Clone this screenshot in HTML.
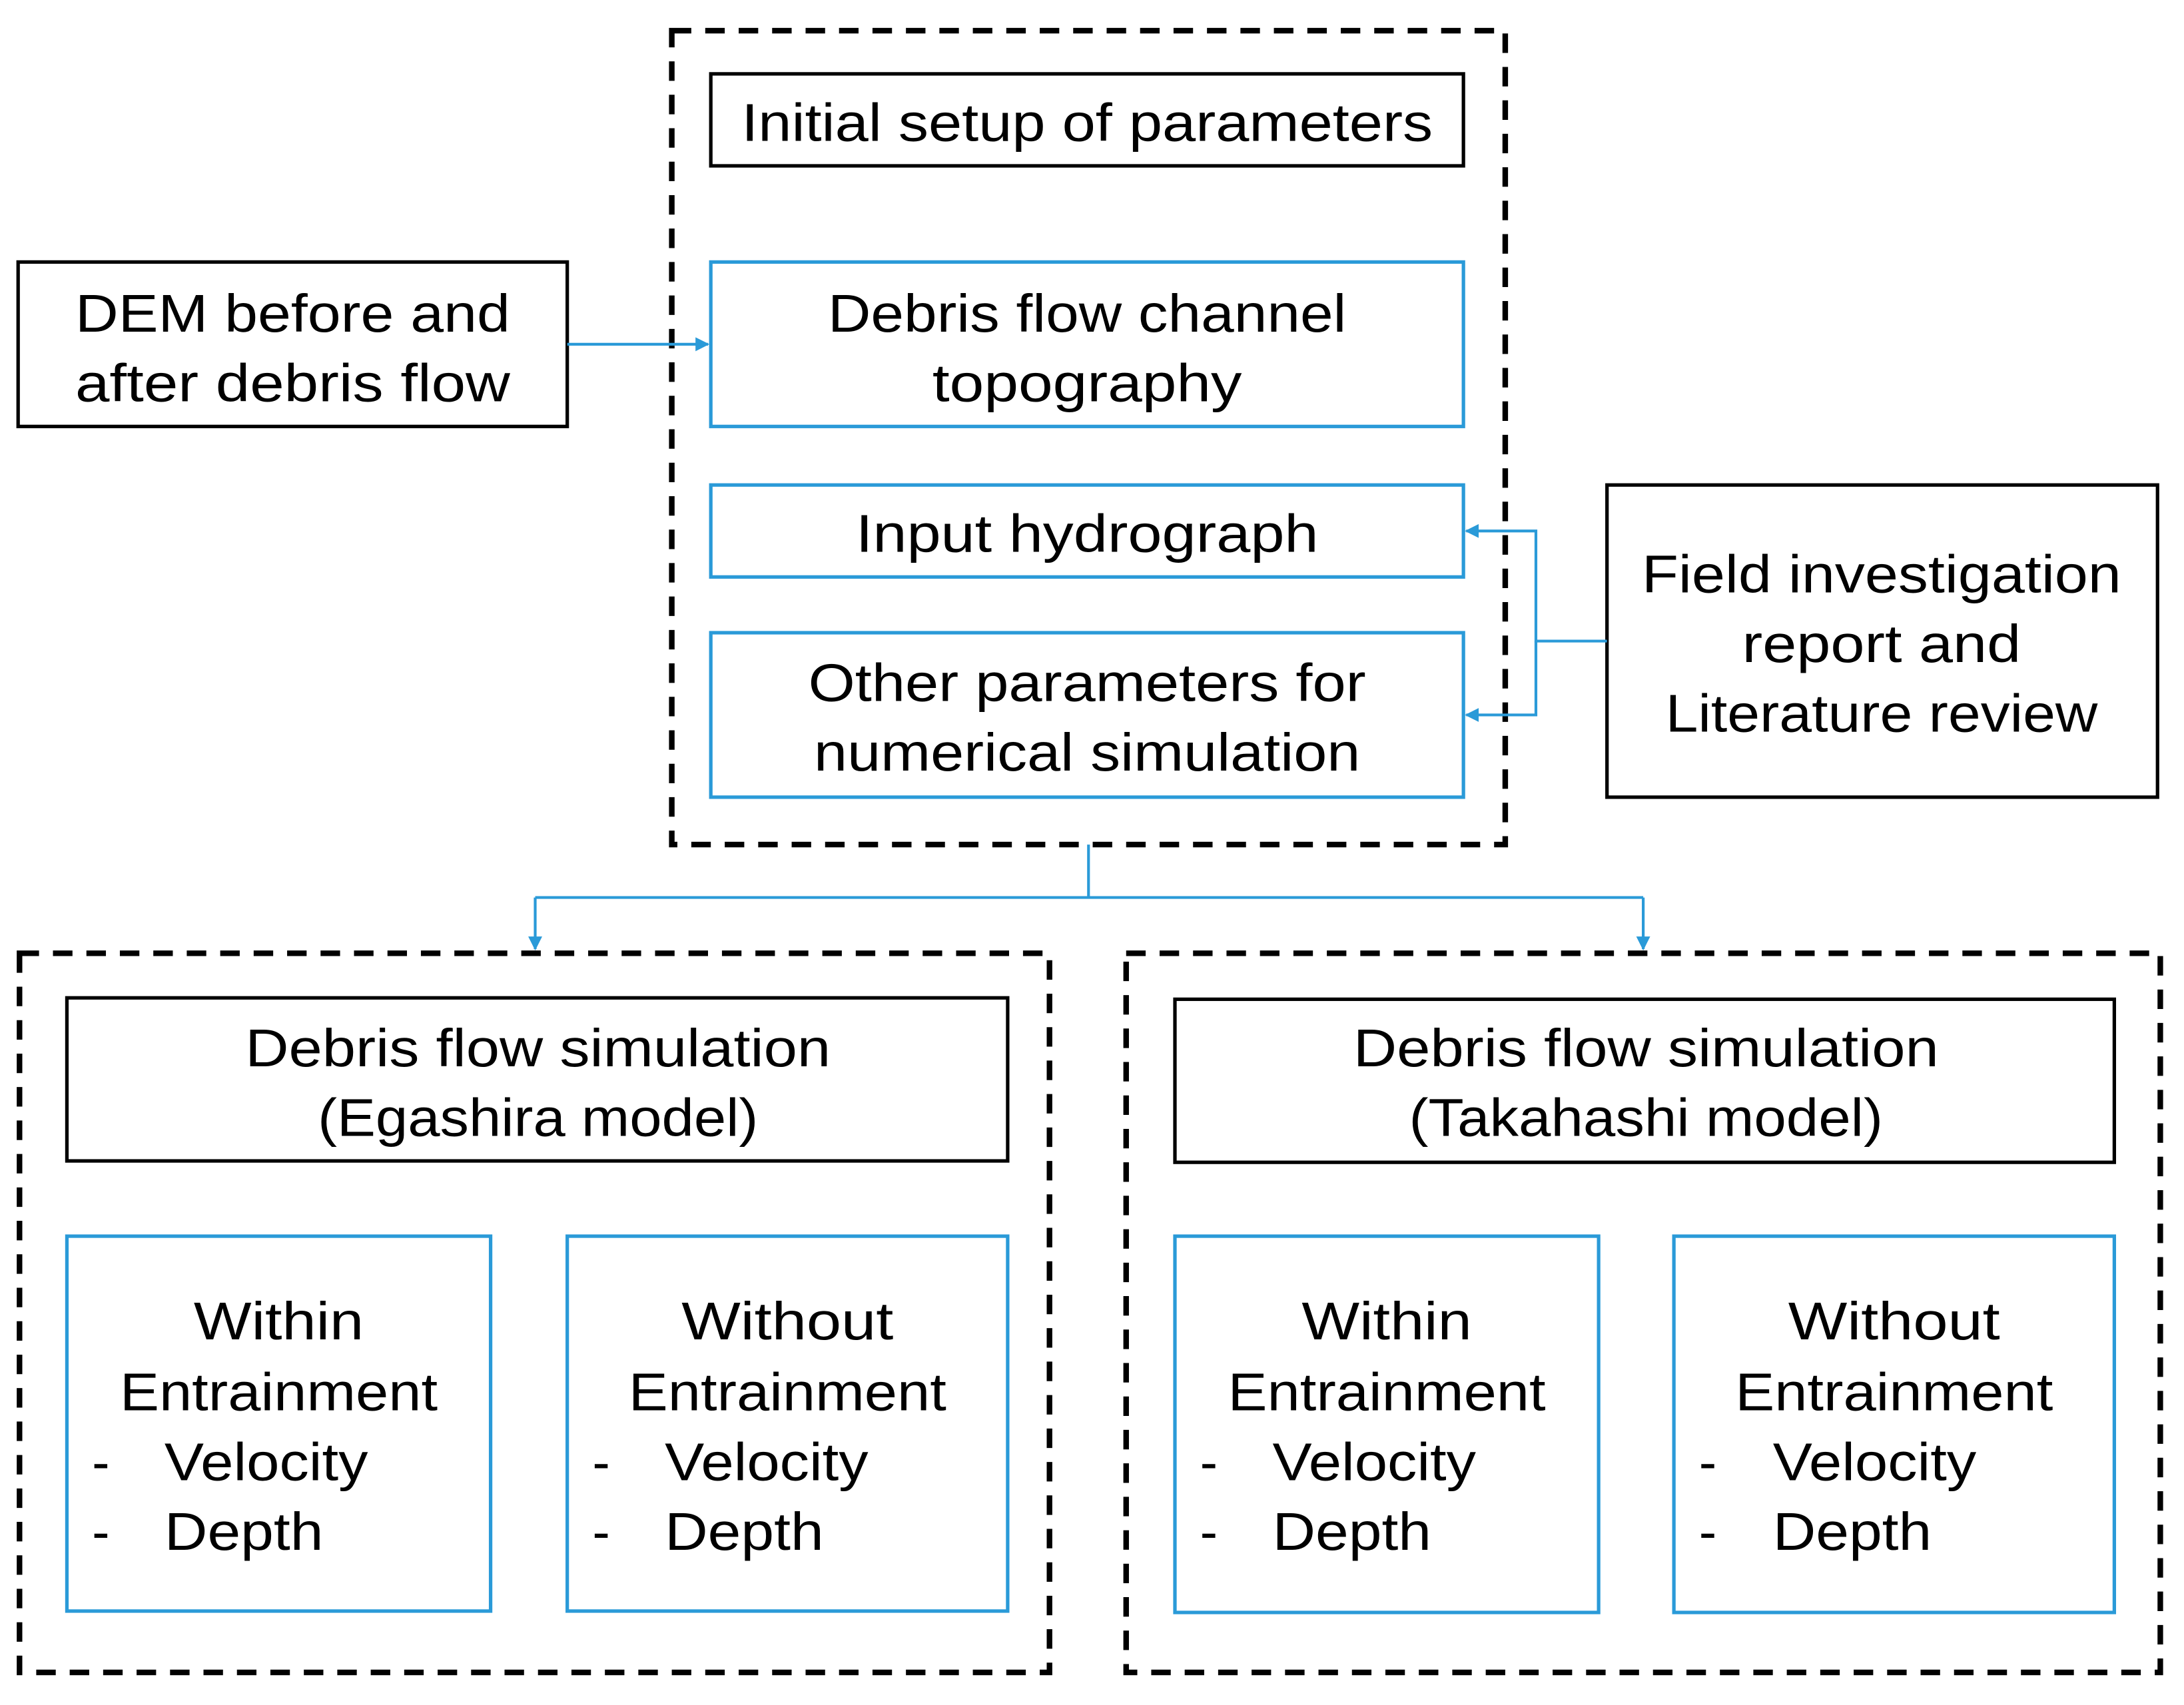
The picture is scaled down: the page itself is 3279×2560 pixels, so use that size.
<!DOCTYPE html>
<html><head><meta charset="utf-8"><style>html,body{margin:0;padding:0;background:#fff}svg{display:block}</style></head>
<body>
<svg width="3279" height="2560" viewBox="0 0 1567 1223.4" preserveAspectRatio="none" xmlns="http://www.w3.org/2000/svg">
<defs>
<marker id="a" markerWidth="10" markerHeight="10" refX="9" refY="5" orient="auto" markerUnits="userSpaceOnUse"><path d="M0,0 L10,5 L0,10 z" fill="#2A9AD8"/></marker>
</defs>
<rect width="1567" height="1224" fill="#fff"/>
<g fill="none" stroke="#000" stroke-width="4" stroke-dasharray="14,10">
<rect x="482" y="22" width="598" height="584"/>
<rect x="14" y="684" width="739" height="516"/>
<rect x="808" y="684" width="742" height="516"/>
</g>
<g fill="none" stroke="#000" stroke-width="2.5">
<rect x="510" y="53" width="540" height="66"/>
<rect x="13" y="188" width="394" height="118"/>
<rect x="1153" y="348" width="395" height="224"/>
<rect x="48" y="716" width="675" height="117"/>
<rect x="843" y="717" width="674" height="117"/>
</g>
<g fill="none" stroke="#2A9AD8" stroke-width="2.5">
<rect x="510" y="188" width="540" height="118"/>
<rect x="510" y="348" width="540" height="66"/>
<rect x="510" y="454" width="540" height="118"/>
<rect x="48" y="887" width="304" height="269"/>
<rect x="407" y="887" width="316" height="269"/>
<rect x="843" y="887" width="304" height="270"/>
<rect x="1201" y="887" width="316" height="270"/>
</g>
<g fill="none" stroke="#2A9AD8" stroke-width="2">
<path d="M407 247 H508" marker-end="url(#a)"/>
<path d="M1153 460 H1102 V381 H1052" marker-end="url(#a)"/>
<path d="M1102 460 V513 H1052" marker-end="url(#a)"/>
<path d="M781 606 V644"/>
<path d="M384 644 H1179"/>
<path d="M384 644 V681" marker-end="url(#a)"/>
<path d="M1179 644 V681" marker-end="url(#a)"/>
</g>
<g font-family="Liberation Sans, sans-serif" font-size="38" fill="#000" text-anchor="middle">
<text x="780" y="101" textLength="496" lengthAdjust="spacingAndGlyphs">Initial setup of parameters</text>
<text x="210" y="238" textLength="312" lengthAdjust="spacingAndGlyphs">DEM before and</text>
<text x="210" y="288" textLength="312" lengthAdjust="spacingAndGlyphs">after debris flow</text>
<text x="780" y="238" textLength="372" lengthAdjust="spacingAndGlyphs">Debris flow channel</text>
<text x="780" y="288" textLength="222" lengthAdjust="spacingAndGlyphs">topography</text>
<text x="780" y="396" textLength="332" lengthAdjust="spacingAndGlyphs">Input hydrograph</text>
<text x="780" y="503" textLength="400" lengthAdjust="spacingAndGlyphs">Other parameters for</text>
<text x="780" y="553" textLength="392" lengthAdjust="spacingAndGlyphs">numerical simulation</text>
<text x="1350" y="425" textLength="344" lengthAdjust="spacingAndGlyphs">Field investigation</text>
<text x="1350" y="475" textLength="200" lengthAdjust="spacingAndGlyphs">report and</text>
<text x="1350" y="525" textLength="310" lengthAdjust="spacingAndGlyphs">Literature review</text>
<text x="386" y="765" textLength="420" lengthAdjust="spacingAndGlyphs">Debris flow simulation</text>
<text x="386" y="815" textLength="316" lengthAdjust="spacingAndGlyphs">(Egashira model)</text>
<text x="1181" y="765" textLength="420" lengthAdjust="spacingAndGlyphs">Debris flow simulation</text>
<text x="1181" y="815" textLength="340" lengthAdjust="spacingAndGlyphs">(Takahashi model)</text>
<text x="200" y="961" textLength="122" lengthAdjust="spacingAndGlyphs">Within</text>
<text x="200" y="1012" textLength="228" lengthAdjust="spacingAndGlyphs">Entrainment</text>
<text x="565" y="961" textLength="152" lengthAdjust="spacingAndGlyphs">Without</text>
<text x="565" y="1012" textLength="228" lengthAdjust="spacingAndGlyphs">Entrainment</text>
<text x="995" y="961" textLength="122" lengthAdjust="spacingAndGlyphs">Within</text>
<text x="995" y="1012" textLength="228" lengthAdjust="spacingAndGlyphs">Entrainment</text>
<text x="1359" y="961" textLength="152" lengthAdjust="spacingAndGlyphs">Without</text>
<text x="1359" y="1012" textLength="228" lengthAdjust="spacingAndGlyphs">Entrainment</text>
</g>
<g font-family="Liberation Sans, sans-serif" font-size="38" fill="#000">
<text x="66" y="1062">-</text><text x="118" y="1062" textLength="146" lengthAdjust="spacingAndGlyphs">Velocity</text>
<text x="66" y="1112">-</text><text x="118" y="1112" textLength="114" lengthAdjust="spacingAndGlyphs">Depth</text>
<text x="425" y="1062">-</text><text x="477" y="1062" textLength="146" lengthAdjust="spacingAndGlyphs">Velocity</text>
<text x="425" y="1112">-</text><text x="477" y="1112" textLength="114" lengthAdjust="spacingAndGlyphs">Depth</text>
<text x="861" y="1062">-</text><text x="913" y="1062" textLength="146" lengthAdjust="spacingAndGlyphs">Velocity</text>
<text x="861" y="1112">-</text><text x="913" y="1112" textLength="114" lengthAdjust="spacingAndGlyphs">Depth</text>
<text x="1219" y="1062">-</text><text x="1272" y="1062" textLength="146" lengthAdjust="spacingAndGlyphs">Velocity</text>
<text x="1219" y="1112">-</text><text x="1272" y="1112" textLength="114" lengthAdjust="spacingAndGlyphs">Depth</text>
</g>
</svg>
</body></html>
